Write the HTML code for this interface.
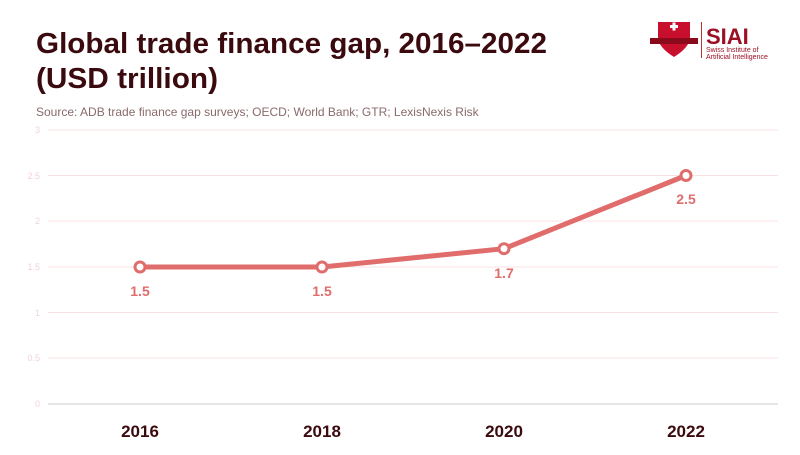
<!DOCTYPE html>
<html><head><meta charset="utf-8"><style>
body{margin:0;width:800px;height:450px;background:#fff;font-family:"Liberation Sans",sans-serif;overflow:hidden}
</style></head><body>
<svg width="800" height="450" xmlns="http://www.w3.org/2000/svg" font-family="Liberation Sans, sans-serif">
<text x="36" y="53" font-size="29" font-weight="bold" fill="#3b0a0e" textLength="511" lengthAdjust="spacingAndGlyphs">Global trade finance gap, 2016–2022</text>
<text x="36" y="88" font-size="29" font-weight="bold" fill="#3b0a0e" textLength="182" lengthAdjust="spacingAndGlyphs">(USD trillion)</text>
<text x="36" y="116" font-size="12" fill="#8a6a6c">Source: ADB trade finance gap surveys; OECD; World Bank; GTR; LexisNexis Risk</text>
<!-- logo -->
<path d="M658 22 h32 v15 q0 10 -16 20 q-16 -10 -16 -20z" fill="#c8102e"/>
<rect x="650" y="38" width="48" height="6" fill="#8a0a1c"/>
<rect x="670" y="25" width="8" height="3" fill="#fff"/><rect x="672.5" y="22.5" width="3" height="8" fill="#fff"/>
<rect x="701" y="22" width="1" height="36" fill="#b33"/>
<text x="706" y="44" font-size="22" font-weight="bold" fill="#9b1024">SIAI</text>
<text x="706" y="52" font-size="7" fill="#9b1024">Swiss Institute of</text>
<text x="706" y="59" font-size="7" fill="#9b1024">Artificial Intelligence</text>
<g stroke="#f8e1e3" stroke-width="1">
<line x1="48" y1="130" x2="778" y2="130"/><line x1="48" y1="175.5" x2="778" y2="175.5"/>
<line x1="48" y1="221" x2="778" y2="221"/><line x1="48" y1="267" x2="778" y2="267"/>
<line x1="48" y1="312.5" x2="778" y2="312.5"/><line x1="48" y1="358" x2="778" y2="358"/>
</g>
<line x1="48" y1="404" x2="778" y2="404" stroke="#ccc"/>
<g font-size="9" fill="#f3d3d6" text-anchor="end">
<text x="40" y="133">3</text><text x="40" y="179">2.5</text><text x="40" y="224">2</text>
<text x="40" y="270">1.5</text><text x="40" y="316">1</text><text x="40" y="361">0.5</text><text x="40" y="407">0</text>
</g>
<polyline points="140,267 322,267 504,248.7 686,175.5" fill="none" stroke="#e06c6c" stroke-width="5" stroke-linejoin="round"/>
<g fill="#fff" stroke="#e06c6c" stroke-width="3">
<circle cx="140" cy="267" r="5"/><circle cx="322" cy="267" r="5"/><circle cx="504" cy="248.7" r="5"/><circle cx="686" cy="175.5" r="5"/>
</g>
<g font-size="14" font-weight="bold" fill="#e06c6c" text-anchor="middle">
<text x="140" y="296">1.5</text><text x="322" y="296">1.5</text><text x="504" y="278">1.7</text><text x="686" y="204">2.5</text>
</g>
<g font-size="17" font-weight="bold" fill="#3b0a0e" text-anchor="middle">
<text x="140" y="437">2016</text><text x="322" y="437">2018</text><text x="504" y="437">2020</text><text x="686" y="437">2022</text>
</g>
</svg>
</body></html>
